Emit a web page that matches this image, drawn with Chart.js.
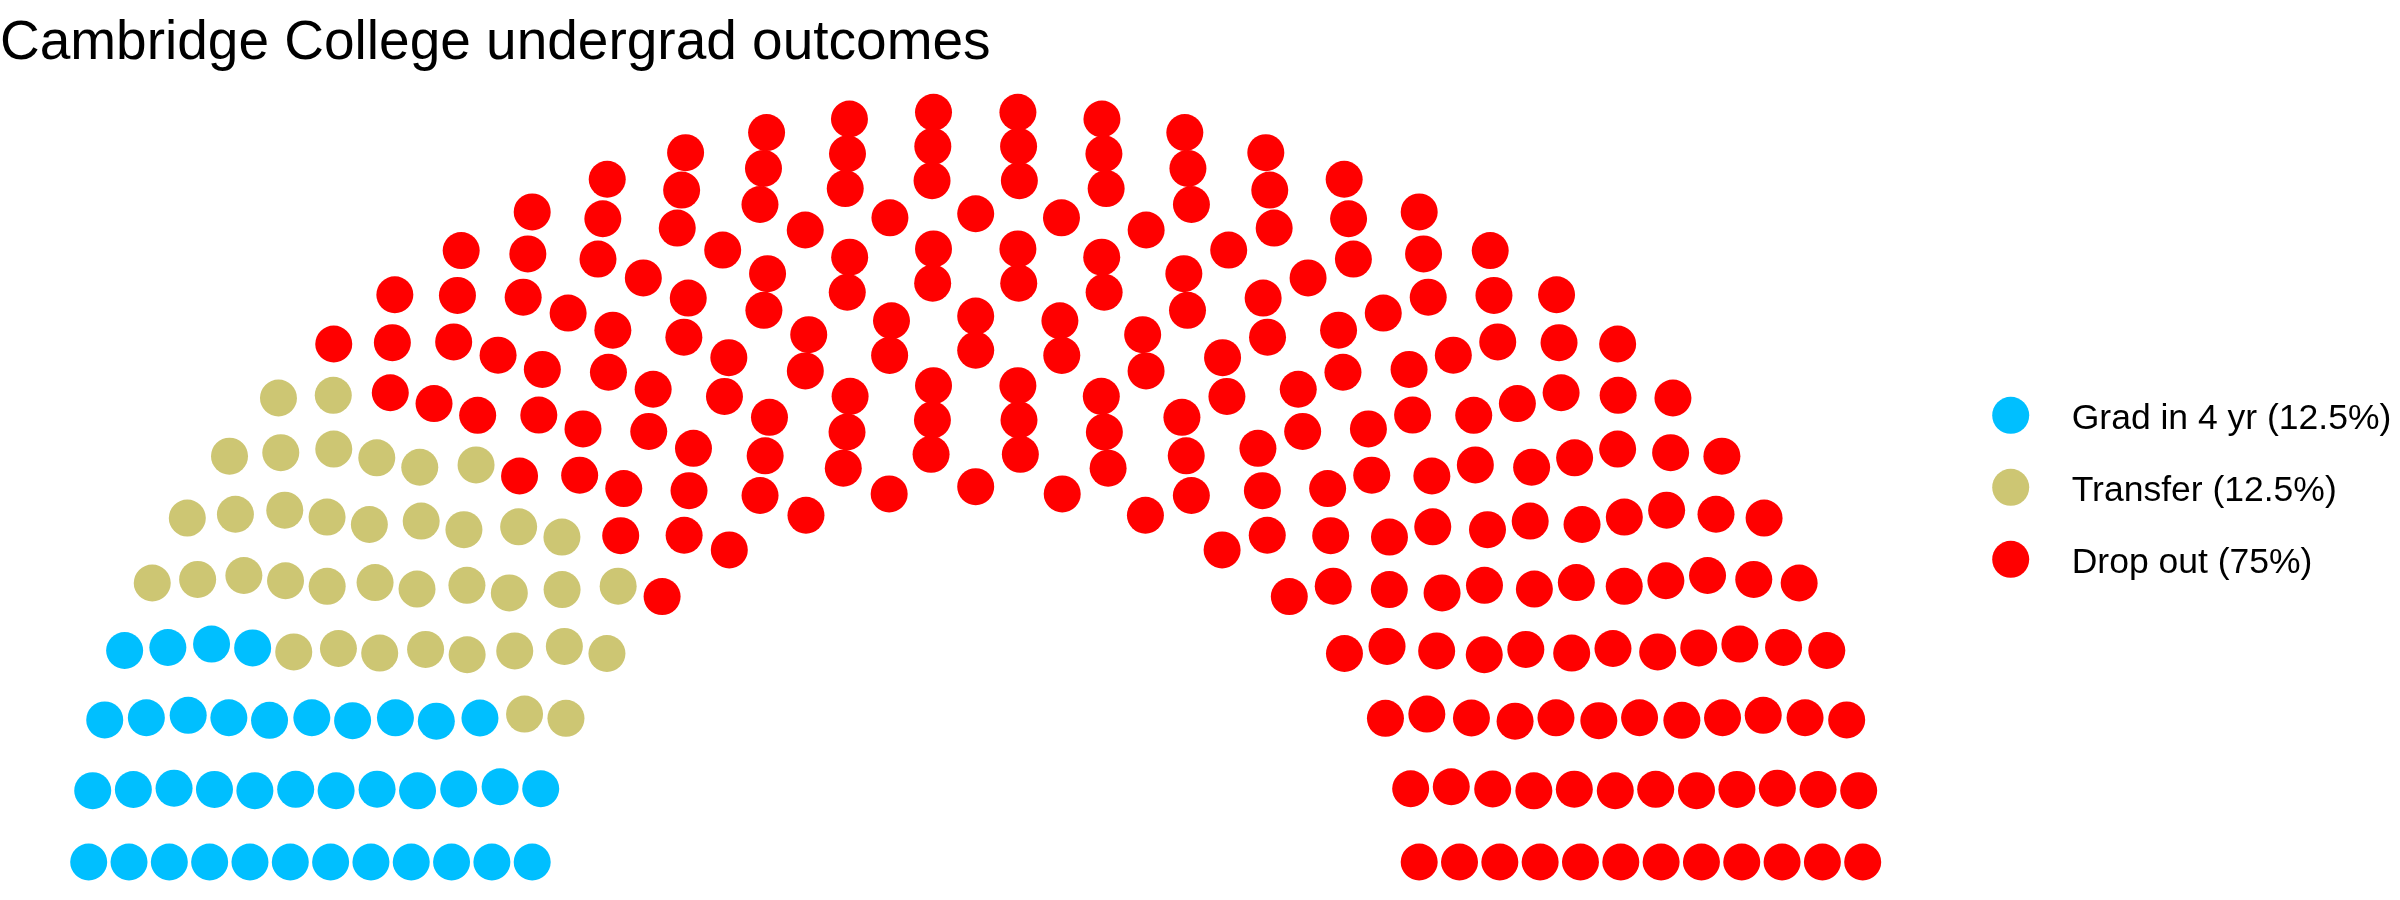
<!DOCTYPE html>
<html>
<head>
<meta charset="utf-8">
<title>Cambridge College undergrad outcomes</title>
<script src="https://cdn.jsdelivr.net/npm/chart.js@4.4.1/dist/chart.umd.min.js"></script>
<style>
  html, body { margin: 0; padding: 0; background: #fff; }
  #chartBox { width: 2400px; height: 900px; }
</style>
</head>
<body>
<div id="chartBox"><canvas id="parliamentChart" width="2400" height="900"></canvas></div>
<script>
// Outcome groups and their seat counts (304 students in all)
const outcomes = ["Grad in 4 yr", "Transfer", "Drop out"];
const seats = [38, 38, 228];
const outcomeColors = ["#00BFFF", "#CDC673", "#FF0000"];
const parlRows = 12;

const FONT = '"Liberation Sans", Arial, Helvetica, sans-serif';

// Semicircle layout like ggparliament: seats on concentric arcs, radius 1 to 2
function semicircle(n, rows) {
  const radii = [];
  for (let i = 0; i < rows; i++) radii.push(1 + i / (rows - 1));
  const pts = [];
  let left = n;
  for (let i = 0; i < rows; i++) {
    const rest = radii.slice(i).reduce((a, b) => a + b, 0);
    const count = Math.round(left * radii[i] / rest);
    for (let j = 0; j < count; j++) {
      const theta = count > 1 ? Math.PI * j / (count - 1) : Math.PI / 2;
      pts.push({ x: radii[i] * Math.cos(theta), y: radii[i] * Math.sin(theta), row: i, theta: theta });
    }
    left -= count;
  }
  // fill seats from the left end, outer row first
  pts.sort((a, b) => (b.theta - a.theta) || (b.row - a.row));
  return pts;
}

const total = seats.reduce((a, b) => a + b, 0);
const layout = semicircle(total, parlRows);

let start = 0;
const datasets = outcomes.map(function (name, k) {
  const part = layout.slice(start, start + seats[k]);
  start += seats[k];
  const pct = Math.round(seats[k] / total * 1000) / 10;
  return {
    label: name + " (" + pct + "%)",
    data: part.map((p) => ({ x: p.x, y: p.y })),
    backgroundColor: outcomeColors[k],
    borderWidth: 0,
    pointRadius: 18.5,
    pointHoverRadius: 18.5,
    clip: false,
  };
});

// Legend on the right, drawn next to the plot like the ggplot guide
const sideLegend = {
  id: "sideLegend",
  afterDraw(chart) {
    const ctx = chart.ctx;
    ctx.save();
    ctx.font = "35.5px " + FONT;
    ctx.textBaseline = "alphabetic";
    ctx.textAlign = "left";
    chart.data.datasets.forEach(function (ds, i) {
      const y = 415.3 + i * 72;
      ctx.fillStyle = ds.backgroundColor;
      ctx.beginPath();
      ctx.arc(2010.7, y, 18.5, 0, Math.PI * 2);
      ctx.fill();
      ctx.fillStyle = "#000";
      ctx.fillText(ds.label, 2071.7, y + 13.3);
    });
    ctx.restore();
  },
};

new Chart(document.getElementById("parliamentChart").getContext("2d"), {
  type: "scatter",
  data: { datasets: datasets },
  options: {
    responsive: false,
    devicePixelRatio: 1,
    animation: false,
    layout: { padding: 0, autoPadding: false },
    scales: {
      x: { type: "linear", min: -2.2, max: 3.2115, display: false },
      y: { type: "linear", min: -0.1013, max: 2.057, display: false },
    },
    plugins: {
      title: {
        display: true,
        text: "Cambridge College undergrad outcomes",
        align: "start",
        color: "#000",
        font: { family: FONT, size: 55, weight: "normal" },
        padding: { top: 11, bottom: 13 },
      },
      legend: { display: false },
      tooltip: { enabled: false },
    },
  },
  plugins: [sideLegend],
});
</script>
</body>
</html>
